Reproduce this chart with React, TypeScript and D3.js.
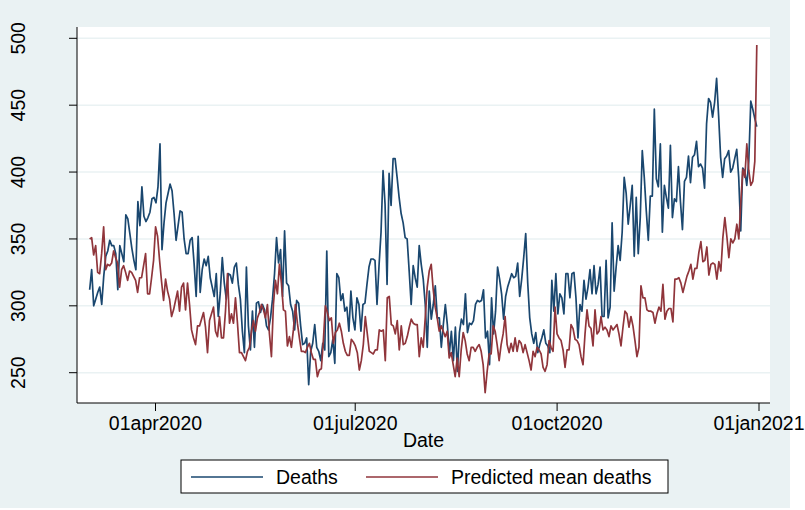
import React from 'react';
import * as d3 from 'd3';

// daily values, 02mar2020 .. 31dec2020
const firstDay = '2020-03-02';
const lastDay = '2020-12-31';

const deaths = [
  312, 327, 300, 305, 310, 314, 301, 322, 337, 341, 349, 345, 345, 339, 312, 345, 339, 333, 368, 365,
  354, 343, 334, 327, 378, 360, 389, 367, 363, 366, 370, 380, 381, 377, 389, 421, 342, 362, 377, 384,
  391, 386, 369, 349, 360, 371,
  370, 350, 339, 339, 349, 351, 331, 307, 352, 310, 327, 335, 330, 337, 321, 314, 307, 324, 292, 310,
  336, 317, 305, 324, 323, 317, 329, 332, 316, 305, 281, 265, 329, 285, 267, 296, 269, 302, 303, 295,
  301, 297, 285, 282, 291, 305, 324, 351, 332,
  342, 307, 356, 317, 315, 301, 296, 282, 304, 302, 285, 271, 272, 276, 241, 266, 272, 286, 269, 266,
  259, 272, 267, 341, 262, 265, 275, 257, 324, 321, 304, 309, 296, 299, 281, 311, 291, 282, 306, 301,
  281, 301, 302, 316, 329, 335, 335, 334,
  301, 330, 355, 401, 376, 316, 399, 375, 410, 410, 396, 381, 369, 362, 351, 350, 326, 301, 330, 321,
  314, 345, 331, 320, 301, 269, 311, 290, 301, 315, 291, 291, 269, 286, 301, 286, 264, 281, 259, 284,
  251, 280, 290, 286, 309, 280, 287, 286, 289,
  301, 304, 303, 304, 312, 276, 281, 256, 306, 279, 296, 329, 320, 309, 290, 307, 314, 319, 324, 321,
  322, 332, 307, 320, 336, 354, 317, 291, 279, 272, 280, 265, 271, 276, 282, 272, 270, 265, 319, 296,
  324, 294, 309, 306, 294, 324, 324, 306,
  324, 325, 306, 276, 301, 296, 319, 305, 314, 327, 309, 330, 309, 316, 329, 292, 292, 334, 291, 299,
  362, 311, 329, 345, 334, 355, 396, 384, 361, 375, 390, 337, 381, 339, 366, 416, 396, 371, 349, 382,
  382, 447, 395, 389, 421, 355, 390,
  381, 373, 420, 366, 380, 378, 404, 378, 357, 393, 396, 412, 392, 411, 413, 423, 404, 406, 403, 388,
  436, 455, 452, 441, 452, 470, 442, 411, 396, 410, 412, 416, 400, 403, 410, 417, 396, 356, 403, 401,
  390, 408, 453, 447, 440, 434,
];

const predicted = [
  350, 351, 338, 345, 325, 324, 339, 359, 327, 331, 330, 332, 341, 336, 332, 314, 327, 330, 325, 319,
  326, 325, 322, 319, 310, 321, 321, 330, 339, 309, 309, 321, 334, 359, 352, 334, 318, 304, 320, 311,
  305, 292, 297, 304, 311, 296,
  314, 317, 297, 317, 301, 282, 276, 271, 285, 285, 290, 295, 284, 265, 289, 294, 299, 281, 277, 292,
  276, 276, 296, 324, 287, 294, 287, 306, 287, 265, 265, 262, 259, 266, 269, 281, 289, 281, 291, 295,
  301, 297, 291, 301, 279, 262, 301, 319, 309,
  331, 317, 297, 296, 270, 277, 269, 282, 301, 287, 276, 266, 266, 265, 269, 272, 265, 260, 260, 247,
  252, 253, 274, 300, 295, 289, 291, 272, 280, 282, 287, 281, 272, 266, 263, 263, 275, 273, 270, 265,
  252, 259, 271, 292, 279, 266, 265, 264, 267,
  267, 282, 281, 282, 259, 306, 307, 286, 285, 279, 289, 267, 285, 271, 272, 277, 284, 290, 287, 286,
  286, 262, 276, 269, 291, 314, 326, 331, 312, 299, 291, 281, 285, 281, 277, 281, 261, 265, 256, 247,
  261, 247, 267, 280, 274, 264, 259, 269,
  269, 266, 269, 271, 266, 256, 235, 251, 264, 264, 285, 281, 271, 259, 271, 279, 292, 271, 265, 272,
  266, 276, 266, 274, 272, 265, 271, 265, 259, 252, 266, 262, 269, 267, 264, 254, 251, 256, 274, 269,
  266, 299, 279, 276, 274, 267, 254, 267, 267,
  286, 283, 275, 274, 271, 262, 256, 279, 297, 285, 283, 270, 297, 279, 281, 292, 282, 284, 282, 277,
  285, 282, 284, 286, 279, 270, 284, 296, 294, 284, 292, 285, 274, 262, 269, 315, 306, 306, 297, 296,
  296, 295, 287, 294, 299, 296, 316, 290,
  296, 298, 298, 288, 320, 320, 321, 317, 310, 316, 322, 326, 331, 320, 328, 328, 340, 348, 333, 334,
  344, 323, 331, 332, 331, 320, 333, 326, 351, 366, 352, 336, 350, 347, 350, 361, 350, 378, 402, 396,
  421, 401, 390, 393, 408, 495,
];

const yTicks = [250, 300, 350, 400, 450, 500];
const xTickDates = ['2020-04-01', '2020-07-01', '2020-10-01', '2021-01-01'];
const xTickLabels = ['01apr2020', '01jul2020', '01oct2020', '01jan2021'];
const seriesNames = ['Deaths', 'Predicted mean deaths'];
const seriesColors = ['#1a476f', '#90353b'];

const parse = d3.timeParse('%Y-%m-%d');

const W = 805;
const H = 510;
const plot = { left: 77, right: 770, top: 27, bottom: 403 };
const font = "'Liberation Sans', Arial, sans-serif";
const fs = 19.5;

type Pt = { date: Date; v: number };

const spread = (vals: number[]): Pt[] => {
  const t0 = parse(firstDay)!.getTime();
  const t1 = parse(lastDay)!.getTime();
  return vals.map((v, i) => ({ date: new Date(t0 + (i * (t1 - t0)) / (vals.length - 1)), v }));
};

const App: React.FC = () => {
  const x = d3
    .scaleTime()
    .domain([parse(xTickDates[0])!, parse(xTickDates[3])!])
    .range([155.5, 759]);
  const y = d3.scaleLinear().domain([250, 500]).range([372.7, 38.3]);

  const line = d3
    .line<Pt>()
    .x(d => x(d.date))
    .y(d => y(d.v));

  const series = [spread(deaths), spread(predicted)];

  return (
    <>
      <style>{'body{margin:0}'}</style>
      <svg width={W} height={H} style={{ display: 'block', fontFamily: font }}>
        <rect x={0} y={0} width={W} height={H} fill="#ffffff" />
        <rect x={0} y={0} width={790} height={508} fill="#eaf2f3" />
        <rect
          x={plot.left}
          y={plot.top}
          width={plot.right - plot.left}
          height={plot.bottom - plot.top}
          fill="#ffffff"
        />

        {yTicks.map(t => (
          <line
            key={'g' + t}
            x1={plot.left}
            x2={plot.right}
            y1={y(t)}
            y2={y(t)}
            stroke="#eaf2f3"
            strokeWidth={1.6}
          />
        ))}

        {series.map((s, i) => (
          <path
            key={seriesNames[i]}
            d={line(s) || ''}
            fill="none"
            stroke={seriesColors[i]}
            strokeWidth={1.7}
            strokeLinejoin="round"
          />
        ))}

        {/* y axis */}
        <line x1={plot.left} x2={plot.left} y1={plot.top} y2={plot.bottom} stroke="#000" strokeWidth={1} />
        {yTicks.map(t => (
          <g key={'y' + t}>
            <line x1={plot.left - 8} x2={plot.left} y1={y(t)} y2={y(t)} stroke="#000" strokeWidth={1} />
            <text
              transform={`translate(25,${y(t)}) rotate(-90)`}
              textAnchor="middle"
              fontSize={fs}
              fill="#000"
            >
              {t}
            </text>
          </g>
        ))}

        {/* x axis */}
        <line x1={plot.left} x2={plot.right} y1={plot.bottom} y2={plot.bottom} stroke="#000" strokeWidth={1} />
        {xTickDates.map((d, i) => {
          const px = x(parse(d)!);
          return (
            <g key={d}>
              <line x1={px} x2={px} y1={plot.bottom} y2={plot.bottom + 8} stroke="#000" strokeWidth={1} />
              <text x={px} y={430} textAnchor="middle" fontSize={fs} fill="#000">
                {xTickLabels[i]}
              </text>
            </g>
          );
        })}
        <text x={(plot.left + plot.right) / 2} y={447} textAnchor="middle" fontSize={fs} fill="#000">
          Date
        </text>

        {/* legend */}
        <rect x={181} y={460} width={487} height={33} fill="#ffffff" stroke="#000" strokeWidth={1} />
        <line x1={191} x2={263} y1={477} y2={477} stroke={seriesColors[0]} strokeWidth={1.7} />
        <text x={276} y={484} fontSize={fs} fill="#000">
          {seriesNames[0]}
        </text>
        <line x1={366} x2={438} y1={477} y2={477} stroke={seriesColors[1]} strokeWidth={1.7} />
        <text x={451} y={484} fontSize={fs} fill="#000">
          {seriesNames[1]}
        </text>
      </svg>
    </>
  );
};

export default App;
